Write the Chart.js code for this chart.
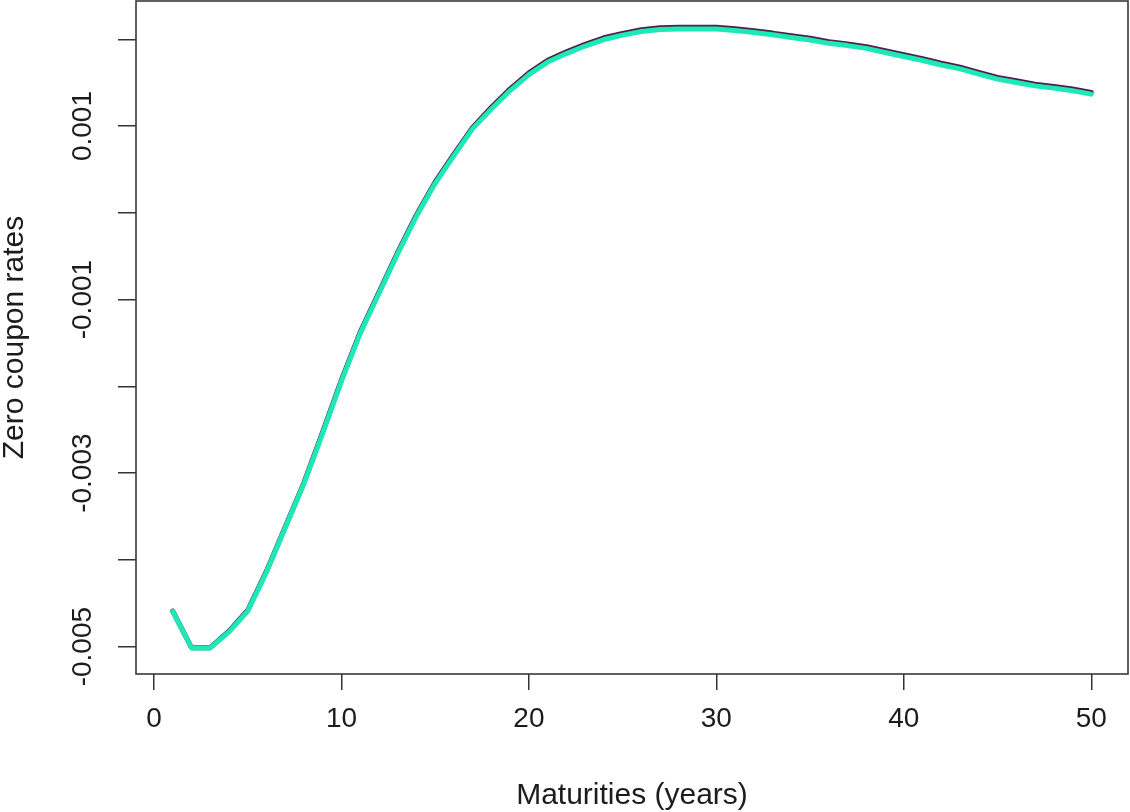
<!DOCTYPE html>
<html>
<head>
<meta charset="utf-8">
<title>Zero coupon rates</title>
<script src="https://cdn.jsdelivr.net/npm/chart.js@4/dist/chart.umd.min.js"></script>
<style>
  html, body { margin: 0; padding: 0; background: #ffffff; }
  #wrap { width: 1130px; height: 812px; position: relative; }
</style>
</head>
<body>
<div id="wrap"><canvas id="curveChart"></canvas></div>
<script>
// Maturities in years
const maturities = [
  1, 2, 3, 4, 5, 6, 7, 8, 9, 10,
  11, 12, 13, 14, 15, 16, 17, 18, 19, 20,
  21, 22, 23, 24, 25, 26, 27, 28, 29, 30,
  31, 32, 33, 34, 35, 36, 37, 38, 39, 40,
  41, 42, 43, 44, 45, 46, 47, 48, 49, 50
];

// Fitted zero coupon curve (drawn on top)
const fittedRates = [
  -0.004593, -0.005015, -0.005015, -0.00483, -0.00459, -0.00414, -0.00363, -0.00312, -0.00254, -0.00194,
  -0.00139, -0.00093, -0.00047, -0.00004, 0.00034, 0.00066, 0.00097, 0.001196, 0.001409, 0.001593,
  0.001737, 0.001835, 0.001922, 0.001997, 0.002048, 0.002089, 0.002112, 0.002118, 0.002118, 0.002118,
  0.0021, 0.002077, 0.002051, 0.00202, 0.001991, 0.001953, 0.001927, 0.001895, 0.001847, 0.001801,
  0.001755, 0.001703, 0.001659, 0.001599, 0.001541, 0.001501, 0.001463, 0.001437, 0.001406, 0.001368
];

// Observed zero coupon curve (drawn underneath)
const observedRates = [
  -0.00459, -0.005012, -0.005012, -0.00482, -0.00458, -0.00413, -0.00362, -0.00311, -0.002525, -0.001925,
  -0.001375, -0.000915, -0.000455, -0.000025, 0.000355, 0.000675, 0.000985, 0.001216, 0.001429, 0.001613,
  0.001757, 0.001855, 0.001942, 0.002017, 0.002068, 0.002109, 0.002132, 0.002138, 0.002138, 0.002138,
  0.00212, 0.002097, 0.002071, 0.00204, 0.002011, 0.001973, 0.001947, 0.001915, 0.001867, 0.001821,
  0.001775, 0.001723, 0.001679, 0.001619, 0.001561, 0.001521, 0.001483, 0.001457, 0.001426, 0.001388
];

// Axis ticks
const xTicks = [0, 10, 20, 30, 40, 50];
const yTicks = [-0.005, -0.004, -0.003, -0.002, -0.001, 0, 0.001, 0.002];
const yTickLabels = ['-0.005', '', '-0.003', '', '-0.001', '', '0.001', ''];

const FONT = "'Liberation Sans', Arial, sans-serif";
const INK = '#1c1c1c';

function toPoints(xs, ys) {
  return xs.map(function(x, i) { return { x: x, y: ys[i] }; });
}

// frame around the plotting region, like base graphics box()
const boxPlugin = {
  id: 'plotBox',
  afterDraw: function(chart) {
    const a = chart.chartArea;
    const ctx = chart.ctx;
    ctx.save();
    ctx.strokeStyle = '#383838';
    ctx.lineWidth = 1.6;
    ctx.strokeRect(a.left, a.top, a.right - a.left, a.bottom - a.top);
    ctx.restore();
  }
};

const ctx = document.getElementById('curveChart').getContext('2d');
new Chart(ctx, {
  type: 'line',
  data: {
    datasets: [
      {
        label: 'fitted',
        data: toPoints(maturities, fittedRates),
        borderColor: '#1de9b6',
        borderWidth: 5,
        pointRadius: 0,
        tension: 0,
        borderCapStyle: 'round',
        borderJoinStyle: 'round'
      },
      {
        label: 'observed',
        data: toPoints(maturities, observedRates),
        borderColor: '#4e1f48',
        borderWidth: 5,
        pointRadius: 0,
        tension: 0,
        borderCapStyle: 'round',
        borderJoinStyle: 'round'
      }
    ]
  },
  options: {
    responsive: true,
    maintainAspectRatio: false,
    devicePixelRatio: 1,
    animation: false,
    layout: { padding: { top: 1, right: 2, left: 0, bottom: 0 } },
    plugins: {
      legend: { display: false },
      tooltip: { enabled: false }
    },
    scales: {
      x: {
        type: 'linear',
        min: -0.96,
        max: 51.96,
        afterBuildTicks: function(scale) {
          scale.ticks = xTicks.map(function(v) { return { value: v }; });
        },
        afterFit: function(scale) {
          scale.height = 138;
          scale.paddingLeft = 0;
          scale.paddingRight = 0;
        },
        border: { display: false },
        grid: {
          drawOnChartArea: false,
          drawTicks: true,
          tickLength: 16,
          color: '#333333',
          lineWidth: 1.5
        },
        ticks: {
          autoSkip: false,
          maxRotation: 0,
          padding: 12,
          color: INK,
          font: { family: FONT, size: 28 },
          callback: function(value) { return String(value); }
        },
        title: {
          display: true,
          text: 'Maturities (years)',
          color: INK,
          font: { family: FONT, size: 30, lineHeight: 1 },
          padding: { top: 0, bottom: 1 }
        }
      },
      y: {
        type: 'linear',
        min: -0.005315,
        max: 0.002441,
        afterBuildTicks: function(scale) {
          scale.ticks = yTicks.map(function(v) { return { value: v }; });
        },
        afterFit: function(scale) {
          scale.width = 136;
          scale.paddingTop = 0;
          scale.paddingBottom = 0;
        },
        border: { display: false },
        grid: {
          drawOnChartArea: false,
          drawTicks: true,
          tickLength: 18,
          color: '#333333',
          lineWidth: 1.5
        },
        ticks: {
          autoSkip: false,
          minRotation: 90,
          maxRotation: 90,
          crossAlign: 'center',
          padding: -5,
          color: INK,
          font: { family: FONT, size: 28 },
          callback: function(value, index) { return yTickLabels[index]; }
        },
        title: {
          display: true,
          text: 'Zero coupon rates',
          color: INK,
          font: { family: FONT, size: 30, lineHeight: 1 },
          padding: { top: 0, bottom: 0 }
        }
      }
    }
  },
  plugins: [boxPlugin]
});
</script>
</body>
</html>
